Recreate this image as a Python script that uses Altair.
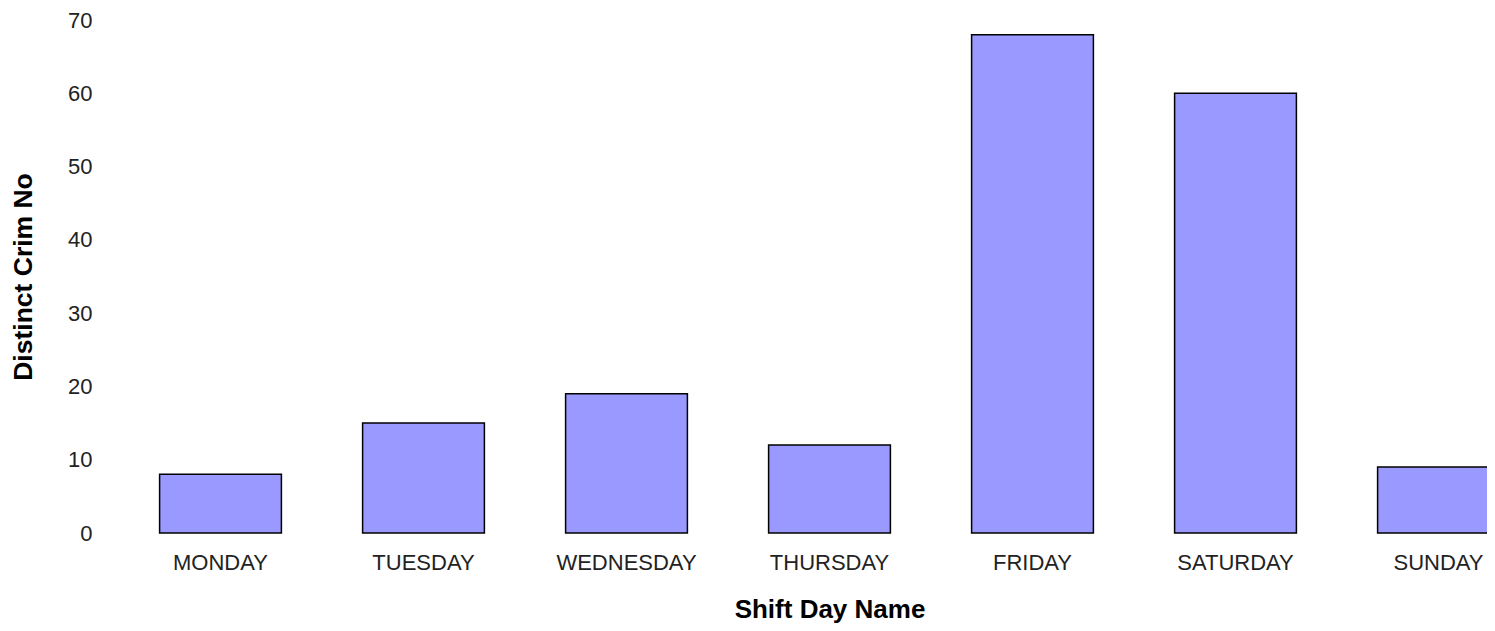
import altair as alt
import pandas as pd

days = ["MONDAY", "TUESDAY", "WEDNESDAY", "THURSDAY", "FRIDAY", "SATURDAY", "SUNDAY"]
counts = [8, 15, 19, 12, 68, 60, 9]

df = pd.DataFrame({"day": days, "count": counts})

chart = alt.Chart(df).mark_bar(
    fill="#9999ff", stroke="#000000", strokeWidth=1.5
).encode(
    x=alt.X("day:N", sort=days, title="Shift Day Name",
            scale=alt.Scale(paddingInner=0.4, paddingOuter=0.2),
            axis=alt.Axis(labelAngle=0, ticks=False, domain=False, grid=False,
                          labelPadding=19, titlePadding=23,
                          labelFontSize=22, titleFontSize=26,
                          labelFont="Liberation Sans", titleFont="Liberation Sans",
                          labelColor="#222222", titleColor="#000000",
                          titleFontWeight="bold")),
    y=alt.Y("count:Q", title="Distinct Crim No",
            scale=alt.Scale(domain=[0, 70]),
            axis=alt.Axis(values=[0, 10, 20, 30, 40, 50, 60, 70], ticks=False,
                          domain=False, grid=False, labelPadding=27, titlePadding=30,
                          labelFontSize=22, titleFontSize=26.5,
                          labelFont="Liberation Sans", titleFont="Liberation Sans",
                          labelColor="#222222", titleColor="#000000",
                          titleFontWeight="bold")),
).properties(
    width=1421, height=513,
    autosize=alt.AutoSizeParams(type="none"),
    padding={"left": 111, "top": 12, "right": -53, "bottom": 90},
).configure_view(stroke=None)

chart.save("out.html", embed_options={"renderer": "svg", "actions": False})
